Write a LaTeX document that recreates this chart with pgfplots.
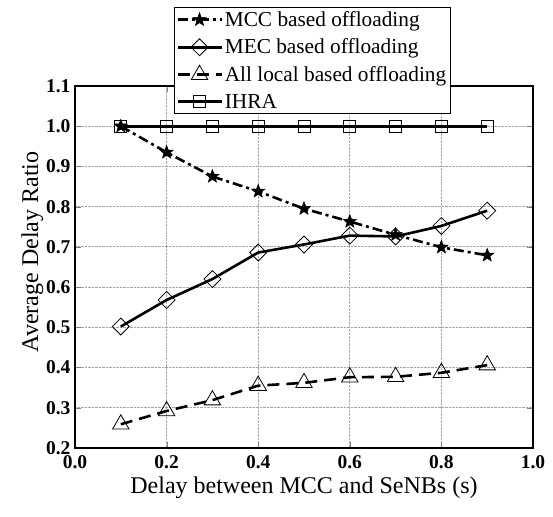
\documentclass[border=0pt]{standalone}
\usepackage{pgfplots}
\pgfplotsset{compat=1.18}
\usepackage{fontspec}
\setmainfont{Liberation Serif}
\pgfdeclareplotmark{fivestar}{%
  \pgfpathmoveto{\pgfpointpolar{90}{\pgfplotmarksize}}%
  \pgfpathlineto{\pgfpointpolar{126}{0.42\pgfplotmarksize}}%
  \pgfpathlineto{\pgfpointpolar{162}{\pgfplotmarksize}}%
  \pgfpathlineto{\pgfpointpolar{198}{0.42\pgfplotmarksize}}%
  \pgfpathlineto{\pgfpointpolar{234}{\pgfplotmarksize}}%
  \pgfpathlineto{\pgfpointpolar{270}{0.42\pgfplotmarksize}}%
  \pgfpathlineto{\pgfpointpolar{306}{\pgfplotmarksize}}%
  \pgfpathlineto{\pgfpointpolar{342}{0.42\pgfplotmarksize}}%
  \pgfpathlineto{\pgfpointpolar{18}{\pgfplotmarksize}}%
  \pgfpathlineto{\pgfpointpolar{54}{0.42\pgfplotmarksize}}%
  \pgfpathclose
  \pgfusepathqfillstroke}
\begin{document}
\begin{tikzpicture}
\begin{axis}[
  name=ax,
  scale only axis,
  width=458pt, height=362pt,
  xmin=0, xmax=1, ymin=0.2, ymax=1.1,
  xtick={0,0.2,0.4,0.6,0.8,1.0},
  ytick={0.2,0.3,0.4,0.5,0.6,0.7,0.8,0.9,1.0,1.1},
  xticklabel style={yshift=-4pt, /pgf/number format/fixed, /pgf/number format/fixed zerofill, /pgf/number format/precision=1},
  yticklabel style={xshift=-1pt, /pgf/number format/fixed, /pgf/number format/fixed zerofill, /pgf/number format/precision=1},
  /pgf/number format/assume math mode=true,
  ticklabel style={font=\fontsize{19.5}{20}\selectfont\bfseries},
  tick align=inside,
  major tick length=6pt,
  xtick pos=both, ytick pos=both,
  grid=major,
  major grid style={gray!70, densely dotted, line width=0.8pt},
  axis line style={line width=1.5pt},
  xlabel={Delay between MCC and SeNBs (s)},
  ylabel={Average Delay Ratio},
  label style={font=\fontsize{24}{24}\selectfont},
  xlabel style={yshift=-1pt},
  ylabel style={yshift=-4pt, xshift=15pt},
  legend style={at={(0.518,1.218)}, anchor=north, draw=black, line width=0.8pt,
    fill=white, font=\fontsize{21.3}{22}\selectfont, inner sep=2pt, row sep=7pt,
    cells={anchor=west}},
  legend image code/.code={\draw[mark repeat=2,mark phase=2,#1] plot coordinates {(0pt,0pt)(22pt,0pt)(44pt,0pt)};},
]
\addplot[black, line width=2.6pt, dash pattern=on 10pt off 4pt on 3pt off 4pt,
  mark=fivestar, mark size=7pt, mark options={solid, fill=black, line width=0.5pt}]
  coordinates {(0.1,1.0)(0.2,0.935)(0.3,0.875)(0.4,0.838)(0.5,0.795)(0.6,0.763)(0.7,0.730)(0.8,0.699)(0.9,0.679)};
\addlegendentry{MCC based offloading}
\addplot[black, line width=2.6pt, mark=square, mark size=6pt,
  mark options={solid, fill=none, line width=0.8pt, rotate=45}]
  coordinates {(0.1,0.502)(0.2,0.568)(0.3,0.620)(0.4,0.686)(0.5,0.706)(0.6,0.728)(0.7,0.726)(0.8,0.752)(0.9,0.790)};
\addlegendentry{MEC based offloading}
\addplot[black, line width=2.6pt, dash pattern=on 12pt off 7pt, mark=triangle, mark size=9.5pt,
  mark options={solid, fill=none, line width=0.8pt}]
  coordinates {(0.1,0.259)(0.2,0.292)(0.3,0.319)(0.4,0.355)(0.5,0.362)(0.6,0.376)(0.7,0.377)(0.8,0.387)(0.9,0.406)};
\addlegendentry{All local based offloading}
\addplot[black, line width=2.6pt, mark=square, mark size=6pt,
  mark options={solid, fill=none, line width=0.8pt}]
  coordinates {(0.1,1.0)(0.2,1.0)(0.3,1.0)(0.4,1.0)(0.5,1.0)(0.6,1.0)(0.7,1.0)(0.8,1.0)(0.9,1.0)};
\addlegendentry{IHRA}
\end{axis}
\path (ax.south west) ++(-75pt,-68pt) coordinate (bbA);
\path (ax.north east) ++(20pt,86pt) coordinate (bbB);
\path (bbA) rectangle (bbB);
\end{tikzpicture}
\end{document}
